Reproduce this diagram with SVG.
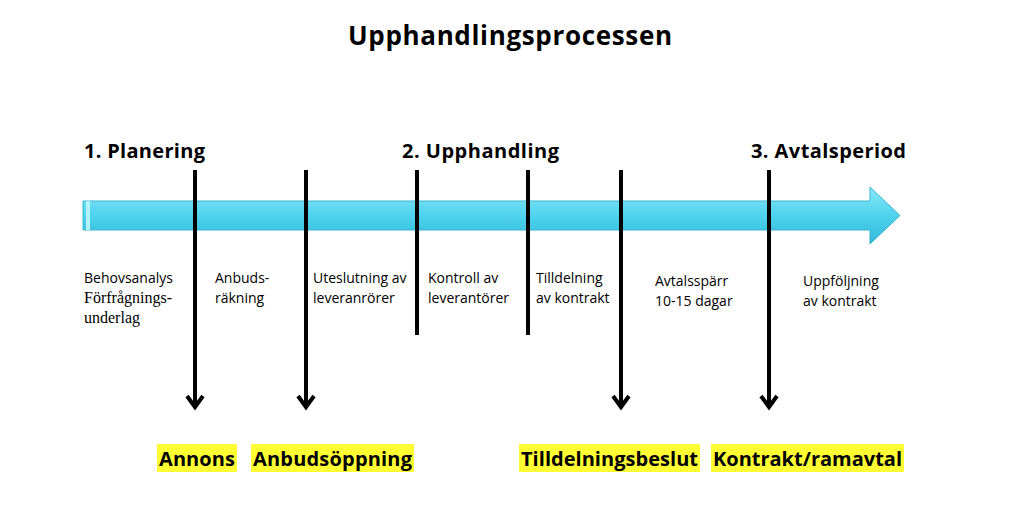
<svg xmlns="http://www.w3.org/2000/svg" width="1024" height="518" viewBox="0 0 1024 518">
<defs>
<linearGradient id="g" x1="0" y1="0" x2="0" y2="1"><stop offset="0" stop-color="#8ae8f8"/><stop offset="0.5" stop-color="#4fd3ee"/><stop offset="1" stop-color="#2fb8d8"/></linearGradient>
</defs>
<style>
text{font-family:"Open Sans","Liberation Sans",sans-serif;fill:#000}
.t{font-size:26px;font-weight:bold}
.h{font-size:20px;font-weight:bold}
.s{font-size:14px}
.sr{font-family:"Liberation Serif",serif;font-size:16px}
.hl{fill:#ffff33}
.v{stroke:#000;stroke-width:4;fill:none}
</style>
<rect width="1024" height="518" fill="#fff"/>
<text class="t" x="510" y="45" text-anchor="middle" textLength="324">Upphandlingsprocessen</text>
<g id="timeline"><path d="M83 201 H870 V187 L900 215.5 L870 244 V230 H83 Z" fill="url(#g)" stroke="#3ab5d0" stroke-width="1"/><rect x="86" y="201" width="4" height="29" fill="#b5f3fc"/></g>
<g id="phases">
<text class="h" x="84" y="158" textLength="121">1. Planering</text>
<text class="h" x="402" y="158" textLength="157">2. Upphandling</text>
<text class="h" x="751" y="158" textLength="155">3. Avtalsperiod</text>
</g>
<g id="connectors">
<line class="v" x1="195" y1="170" x2="195" y2="406"/><path class="v" d="M187 396 L195 407 L203 396"/>
<line class="v" x1="306" y1="170" x2="306" y2="406"/><path class="v" d="M298 396 L306 407 L314 396"/>
<line class="v" x1="417" y1="170" x2="417" y2="335"/>
<line class="v" x1="528" y1="170" x2="528" y2="335"/>
<line class="v" x1="621" y1="170" x2="621" y2="406"/><path class="v" d="M613 396 L621 407 L629 396"/>
<line class="v" x1="769" y1="170" x2="769" y2="406"/><path class="v" d="M761 396 L769 407 L777 396"/>
</g>
<g id="steps">
<text class="s" x="84" y="283">Behovsanalys</text><text class="sr" x="84" y="303">Förfrågnings-</text><text class="sr" x="84" y="323">underlag</text>
<text class="s" x="215" y="283">Anbuds-</text><text class="s" x="215" y="303">räkning</text>
<text class="s" x="313" y="283">Uteslutning av</text><text class="s" x="313" y="303">leveranrörer</text>
<text class="s" x="428" y="283">Kontroll av</text><text class="s" x="428" y="303">leverantörer</text>
<text class="s" x="536" y="283">Tilldelning</text><text class="s" x="536" y="303">av kontrakt</text>
<text class="s" x="655" y="286">Avtalsspärr</text><text class="s" x="655" y="306">10-15 dagar</text>
<text class="s" x="803" y="286">Uppföljning</text><text class="s" x="803" y="306">av kontrakt</text>
</g>
<g id="milestones">
<rect class="hl" x="157" y="444" width="80" height="28"/><text class="h" x="159" y="466" textLength="76">Annons</text>
<rect class="hl" x="251" y="444" width="163" height="28"/><text class="h" x="253" y="466" textLength="159">Anbudsöppning</text>
<rect class="hl" x="519" y="444" width="181" height="28"/><text class="h" x="521" y="466" textLength="177">Tilldelningsbeslut</text>
<rect class="hl" x="711" y="444" width="193" height="28"/><text class="h" x="713" y="466" textLength="189">Kontrakt/ramavtal</text>
</g>
</svg>
